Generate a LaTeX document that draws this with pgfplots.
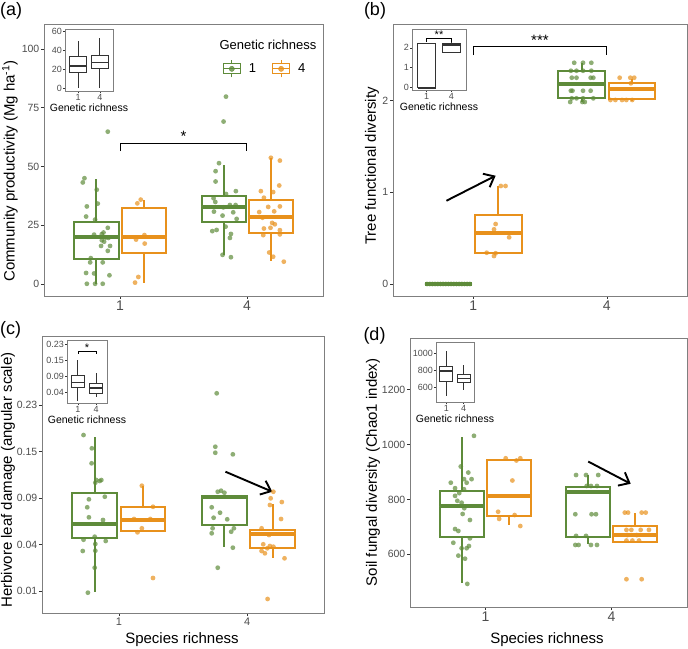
\documentclass[border=0pt]{standalone}
\usepackage{pgfplots}
\pgfplotsset{compat=1.18}
\usepgfplotslibrary{statistics}
\usetikzlibrary{arrows.meta}
\usepackage{fontspec}
\setmainfont{Liberation Sans}
\definecolor{cgreen}{HTML}{5E8B3A}
\definecolor{corange}{HTML}{E8911C}
\definecolor{frame}{HTML}{7F7F7F}
\definecolor{tickc}{HTML}{333333}
\definecolor{tlab}{HTML}{4D4D4D}
\newcommand{\fs}[1]{\fontsize{#1}{#1}\selectfont}
\pgfplotsset{
  mainax/.style={
    scale only axis, anchor=south west,
    xmin=0.4, xmax=2.6, xtick={1,2}, xticklabels={1,4},
    axis line style={draw=frame, line width=0.8pt},
    tick align=outside, tick pos=left, major tick length=3pt,
    tick style={draw=tickc, line width=0.6pt},
    yticklabel style={font=\fs{10.5}, text=tlab, inner sep=1.5pt},
    xticklabel style={font=\fs{14}, text=tlab, inner sep=1.5pt},
    /pgf/number format/assume math mode=true,
    boxplot/draw direction=y,
    boxplot/box extend=0.35,
    boxplot/whisker extend=0,
    boxplot/every median/.style={line width=4pt},
  },
  gbox/.style={cgreen, line width=2pt, fill=white},
  obox/.style={corange, line width=2pt, fill=white},
  gpts/.style={only marks, color=cgreen, mark=*, mark size=2.4pt, mark options={draw=cgreen, fill=cgreen, fill opacity=0.7, draw opacity=0}},
  opts/.style={only marks, color=corange, mark=*, mark size=2.4pt, mark options={draw=corange, fill=corange, fill opacity=0.7, draw opacity=0}},
  bracket/.style={black, line width=0.9pt},
  arr/.style={black, line width=1.9pt, -{Straight Barb[length=9pt, width=15pt]}},
  inset/.style={
    scale only axis, anchor=south west,
    xmin=0.4, xmax=2.6, xtick={1,2}, xticklabels={1,4},
    axis line style={draw=frame, line width=0.6pt},
    axis background/.style={fill=white},
    tick align=outside, tick pos=left, major tick length=2pt,
    tick style={draw=tickc, line width=0.5pt},
    yticklabel style={font=\fs{9}, text=tlab, inner sep=1pt},
    xticklabel style={font=\fs{9}, text=tlab, inner sep=1pt},
    /pgf/number format/assume math mode=true,
    xlabel={Genetic richness}, xlabel style={font=\fs{10.5}, inner sep=1pt, yshift=-1.5pt},
    boxplot/draw direction=y, boxplot/box extend=0.75, boxplot/whisker extend=0,
    boxplot/every median/.style={line width=1.8pt},
  },
  ibox/.style={black!80, line width=0.9pt, fill=white},
  legG/.style={legend image code/.code={
    \draw[cgreen, line width=1.1pt, fill=white] (0pt,-5pt) rectangle (17pt,5pt);
    \draw[cgreen, line width=1.1pt] (8.5pt,-8.5pt)--(8.5pt,-5pt) (8.5pt,5pt)--(8.5pt,8.5pt) (0pt,0pt)--(17pt,0pt);
    \fill[cgreen, fill opacity=0.8] (8.5pt,0pt) circle (2.6pt);}},
  legO/.style={legend image code/.code={
    \draw[corange, line width=1.1pt, fill=white] (0pt,-5pt) rectangle (17pt,5pt);
    \draw[corange, line width=1.1pt] (8.5pt,-8.5pt)--(8.5pt,-5pt) (8.5pt,5pt)--(8.5pt,8.5pt) (0pt,0pt)--(17pt,0pt);
    \fill[corange, fill opacity=0.8] (8.5pt,0pt) circle (2.6pt);}},
}
\begin{document}
\begin{tikzpicture}[x=1pt,y=1pt]
\useasboundingbox (0,0) rectangle (688,648);
% ---------------- (a) ----------------
\begin{axis}[mainax, at={(44pt,352pt)}, width=279pt, height=272pt,
  ymin=-5.1, ymax=110.6, ytick={0,25,50,75,100}, yticklabels={0,25,50,75,100},
  legend columns=2, legend cell align=left,
  legend style={at={(0.64,0.835)}, anchor=west, draw=none, fill=none, inner sep=0pt, font=\fs{13},
    /tikz/every odd column/.append style={column sep=6pt},
    /tikz/every even column/.append style={column sep=14pt}}]
\addlegendimage{legG}\addlegendentry{1}
\addlegendimage{legO}\addlegendentry{4}
\addplot[gbox, boxplot prepared={draw position=0.813, lower whisker=0, lower quartile=10.5, median=19.9, upper quartile=26.4, upper whisker=44.8}] coordinates {};
\addplot[obox, boxplot prepared={draw position=1.189, lower whisker=0.55, lower quartile=13.4, median=19.9, upper quartile=32.2, upper whisker=35.6}] coordinates {};
\addplot[gbox, boxplot prepared={draw position=1.817, lower whisker=12.3, lower quartile=26.4, median=32.8, upper quartile=37.3, upper whisker=50.8}] coordinates {};
\addplot[obox, boxplot prepared={draw position=2.19, lower whisker=9.6, lower quartile=21.9, median=28.4, upper quartile=35.6, upper whisker=53.7}] coordinates {};
\addplot[gpts] coordinates {(0.903,64.8)(0.719,45.0)(0.706,43.2)(0.816,40.1)(0.738,33.0)(0.824,34.2)(0.732,28.7)(0.803,27.4)(0.903,23.9)(0.869,21.9)(0.856,21.2)(0.795,21.0)(0.887,19.8)(0.908,19.6)(0.856,18.6)(0.874,18.0)(0.850,16.2)(0.921,16.2)(0.903,14.1)(0.769,11.0)(0.764,9.2)(0.863,9.2)(0.732,4.7)(0.795,4.5)(0.916,3.7)(0.738,0.1)(0.803,0.1)(0.863,0.1)};
\addplot[opts] coordinates {(1.163,35.9)(1.136,34.3)(1.192,20.8)(1.126,18.9)(1.194,17.2)(1.144,3.0)(1.118,0.6)};
\addplot[gpts] coordinates {(1.816,69.1)(1.835,79.7)(1.780,51.4)(1.753,48.0)(1.753,43.6)(1.913,39.5)(1.835,38.3)(1.737,36.5)(1.751,34.9)(1.866,33.6)(1.911,33.6)(1.814,32.6)(1.740,30.8)(1.808,29.1)(1.892,30.5)(1.919,27.7)(1.761,23.0)(1.727,22.5)(1.832,24.4)(1.874,21.3)(1.866,19.6)(1.874,11.4)(1.808,12.4)};
\addplot[opts] coordinates {(2.189,53.7)(2.260,52.5)(2.255,41.9)(2.110,39.5)(2.207,39.1)(2.134,36.7)(2.168,32.8)(2.260,33.0)(2.215,30.9)(2.097,30.6)(2.123,28.2)(2.199,26.0)(2.220,25.4)(2.134,23.6)(2.186,23.9)(2.260,22.9)(2.129,20.8)(2.260,21.1)(2.176,13.4)(2.207,11.6)(2.291,9.5)};
\addplot[bracket] coordinates {(1,56.5)(1,59.9)(2,59.9)(2,56.5)};
\node[font=\fs{15}, anchor=base, yshift=1.5pt] at (axis cs:1.5,59.9) {*};
\end{axis}
% ---------------- (b) ----------------
\begin{axis}[mainax, at={(393pt,352pt)}, width=294pt, height=272pt,
  ymin=-0.131, ymax=2.836, ytick={0,1,2}, yticklabels={0,1,2}]
\addplot[gbox, boxplot prepared={draw position=0.815, lower whisker=0, lower quartile=0, median=0, upper quartile=0, upper whisker=0}] coordinates {};
\addplot[obox, boxplot prepared={draw position=1.189, lower whisker=0.33, lower quartile=0.341, median=0.556, upper quartile=0.756, upper whisker=1.069}] coordinates {};
\addplot[gbox, boxplot prepared={draw position=1.813, lower whisker=1.988, lower quartile=2.032, median=2.185, upper quartile=2.326, upper whisker=2.407}] coordinates {};
\addplot[obox, boxplot prepared={draw position=2.189, lower whisker=2.0, lower quartile=2.014, median=2.127, upper quartile=2.189, upper whisker=2.236}] coordinates {};
\addplot[gpts] coordinates {(0.655,0)(0.675,0)(0.695,0)(0.715,0)(0.735,0)(0.755,0)(0.775,0)(0.795,0)(0.815,0)(0.835,0)(0.855,0)(0.875,0)(0.895,0)(0.915,0)(0.935,0)(0.955,0)(0.975,0)};
\addplot[opts] coordinates {(1.207,1.069)(1.242,1.069)(1.168,0.654)(1.156,0.596)(1.269,0.509)(1.101,0.341)(1.156,0.305)(1.168,0.335)};
\addplot[gpts] coordinates {(1.756,2.413)(1.822,2.413)(1.884,2.413)(1.731,2.326)(1.773,2.326)(1.822,2.326)(1.884,2.326)(1.738,2.250)(1.773,2.250)(1.879,2.250)(1.899,2.250)(1.731,2.108)(1.743,2.108)(1.822,2.108)(1.879,2.108)(1.738,2.025)(1.773,2.025)(1.822,2.025)(1.899,2.025)(1.726,1.985)(1.817,1.985)(1.835,1.985)};
\addplot[opts] coordinates {(2.096,2.250)(2.176,2.250)(2.205,2.250)(2.180,2.189)(2.027,2.007)(2.064,2.007)(2.114,2.007)(2.146,2.007)(2.190,2.007)};
\addplot[arr] coordinates {(0.8,0.908)(1.168,1.181)};
\addplot[bracket] coordinates {(1,2.497)(1,2.588)(2,2.588)(2,2.497)};
\node[font=\fs{15}, anchor=base, yshift=1.5pt] at (axis cs:1.5,2.588) {***};
\end{axis}
% ---------------- (c) ----------------
\begin{axis}[mainax, at={(42pt,35pt)}, width=282pt, height=277pt,
  ymin=0.0534, ymax=0.648, ytick={0.1,0.2,0.3,0.4,0.5}, yticklabels={0.01,0.04,0.09,0.15,0.23},
  xticklabel style={font=\fs{11}}]
\addplot[gbox, boxplot prepared={draw position=0.811, lower whisker=0.0985, lower quartile=0.215, median=0.2438, upper quartile=0.3116, upper whisker=0.4318}] coordinates {};
\addplot[obox, boxplot prepared={draw position=1.188, lower whisker=0.228, lower quartile=0.230, median=0.2536, upper quartile=0.2815, upper whisker=0.3266}] coordinates {};
\addplot[gbox, boxplot prepared={draw position=1.822, lower whisker=0.1944, lower quartile=0.2416, median=0.3017, upper quartile=0.3045, upper whisker=0.3045}] coordinates {};
\addplot[obox, boxplot prepared={draw position=2.201, lower whisker=0.1715, lower quartile=0.1936, median=0.2236, upper quartile=0.2315, upper whisker=0.2873}] coordinates {};
\addplot[gpts] coordinates {(0.724,0.4354)(0.789,0.4069)(0.787,0.3747)(0.824,0.3388)(0.850,0.3367)(0.863,0.3388)(0.816,0.3331)(0.890,0.3030)(0.766,0.2974)(0.753,0.2803)(0.766,0.2588)(0.876,0.2530)(0.811,0.2172)(0.897,0.2079)(0.718,0.1865)(0.816,0.2015)(0.816,0.1871)(0.811,0.1506)(0.758,0.097)(0.724,0.2107)};
\addplot[opts] coordinates {(1.179,0.3266)(1.266,0.2815)(1.118,0.2552)(1.245,0.2552)(1.179,0.2352)(1.145,0.2266)(1.266,0.1285)};
\addplot[gpts] coordinates {(1.752,0.4103)(1.752,0.3974)(1.889,0.3940)(1.771,0.3137)(1.797,0.3159)(1.823,0.3116)(1.724,0.2803)(1.789,0.2687)(1.739,0.2579)(1.845,0.2545)(1.731,0.2352)(1.724,0.2245)(1.897,0.2352)(1.876,0.2279)(1.889,0.1936)(1.771,0.1506)(1.763,0.525)};
\addplot[opts] coordinates {(2.205,0.3137)(2.184,0.2996)(2.271,0.2916)(2.178,0.2852)(2.265,0.2552)(2.113,0.2352)(2.171,0.2208)(2.126,0.2009)(2.178,0.1972)(2.205,0.1957)(2.158,0.1923)(2.113,0.1865)(2.139,0.1815)(2.292,0.1708)(2.160,0.0835)};
\addplot[arr] coordinates {(1.831,0.3567)(2.197,0.3137)};
\end{axis}
% ---------------- (d) ----------------
\begin{axis}[mainax, at={(410pt,41pt)}, width=277pt, height=269pt,
  ymin=407.7, ymax=1388.7, ytick={600,800,1000,1200}, yticklabels={600,800,1000,1200}]
\addplot[gbox, boxplot prepared={draw position=0.810, lower whisker=494, lower quartile=662, median=776, upper quartile=832, upper whisker=1029}] coordinates {};
\addplot[obox, boxplot prepared={draw position=1.186, lower whisker=706, lower quartile=740, median=813, upper quartile=944, upper whisker=944}] coordinates {};
\addplot[gbox, boxplot prepared={draw position=1.810, lower whisker=638, lower quartile=664, median=828, upper quartile=847, upper whisker=889}] coordinates {};
\addplot[obox, boxplot prepared={draw position=2.186, lower whisker=645, lower quartile=645, median=670, upper quartile=703, upper whisker=750}] coordinates {};
\addplot[gpts] coordinates {(0.908,1032)(0.803,920)(0.863,898)(0.829,874)(0.889,874)(0.850,861)(0.724,861)(0.758,841)(0.829,837)(0.791,823)(0.758,813)(0.776,795)(0.810,788)(0.831,768)(0.818,747)(0.876,725)(0.758,692)(0.784,685)(0.876,658)(0.744,642)(0.810,622)(0.868,630)(0.850,622)(0.784,595)(0.837,584)(0.855,492)};
\addplot[opts] coordinates {(1.160,950)(1.245,942)(1.276,950)(1.213,869)(1.100,755)(1.231,743)(1.108,729)(1.276,703)};
\addplot[gpts] coordinates {(1.719,889)(1.798,889)(1.895,889)(1.803,849)(1.837,849)(1.885,849)(1.713,746)(1.842,746)(1.877,746)(1.719,667)(1.798,667)(1.713,634)(1.739,634)(1.837,634)(1.885,634)};
\addplot[opts] coordinates {(2.106,752)(2.132,752)(2.240,752)(2.272,752)(2.119,689)(2.158,689)(2.232,689)(2.298,689)(2.127,670)(2.201,670)(2.119,650)(2.166,650)(2.219,650)(2.119,509)(2.240,509)};
\addplot[arr] coordinates {(1.816,938)(2.153,857)};
\end{axis}
% ---------------- insets ----------------
\begin{axis}[inset, at={(65pt,557pt)}, width=48pt, height=62pt,
  ymin=-3.2, ymax=62.9, ytick={0,20,40,60}, yticklabels={0,20,40,60}]
\addplot[ibox, boxplot prepared={draw position=1, lower whisker=0, lower quartile=16.5, median=23.6, upper quartile=33.2, upper whisker=50.4}] coordinates {};
\addplot[ibox, boxplot prepared={draw position=2, lower whisker=0.5, lower quartile=20.4, median=27.2, upper quartile=35.0, upper whisker=52.9}] coordinates {};
\end{axis}
\begin{axis}[inset, at={(412pt,558pt)}, width=54pt, height=61pt,
  ymin=-0.116, ymax=2.944, ytick={0,1,2}, yticklabels={0,1,2}, clip=false]
\addplot[ibox, boxplot prepared={draw position=1, lower whisker=0, lower quartile=0, median=0, upper quartile=2.207, upper whisker=2.207}] coordinates {};
\addplot[ibox, boxplot prepared={draw position=2, lower whisker=1.79, lower quartile=1.79, median=2.15, upper quartile=2.207, upper whisker=2.27}] coordinates {};
\addplot[black, line width=0.7pt] coordinates {(1,2.31)(1,2.46)(2,2.46)(2,2.31)};
\node[font=\fs{11}, anchor=base, yshift=0.5pt] at (axis cs:1.5,2.46) {**};
\end{axis}
\begin{axis}[inset, at={(67pt,245pt)}, width=40pt, height=63pt,
  ymin=0.131, ymax=0.527, ytick={0.2,0.3,0.4,0.5}, yticklabels={0.04,0.09,0.15,0.23}, clip=false]
\addplot[ibox, boxplot prepared={draw position=1, lower whisker=0.146, lower quartile=0.231, median=0.26, upper quartile=0.304, upper whisker=0.402}] coordinates {};
\addplot[ibox, boxplot prepared={draw position=2, lower whisker=0.166, lower quartile=0.189, median=0.225, upper quartile=0.256, upper whisker=0.319}] coordinates {};
\addplot[black, line width=0.7pt] coordinates {(1,0.44)(1,0.454)(2,0.454)(2,0.44)};
\node[font=\fs{11}, anchor=base, yshift=0.5pt] at (axis cs:1.5,0.454) {*};
\end{axis}
\begin{axis}[inset, at={(436pt,246pt)}, width=38pt, height=60pt,
  ymin=423.5, ymax=1136, ytick={600,800,1000}, yticklabels={600,800,1000}]
\addplot[ibox, boxplot prepared={draw position=1, lower whisker=494, lower quartile=662, median=792, upper quartile=850.6, upper whisker=1027}] coordinates {};
\addplot[ibox, boxplot prepared={draw position=2, lower whisker=561, lower quartile=651, median=702, upper quartile=753, upper whisker=867}] coordinates {};
\end{axis}
% ---------------- titles ----------------
\node[font=\fs{18}, anchor=west, inner sep=0pt] at (0,637) {(a)};
\node[font=\fs{18}] at (375,637) {(b)};
\node[font=\fs{18}, anchor=west, inner sep=0pt] at (0,318) {(c)};
\node[font=\fs{18}] at (374.5,312) {(d)};
\node[font=\fs{15}, rotate=90] at (10,477) {Community productivity (Mg ha\textsuperscript{-1})};
\node[font=\fs{15}, rotate=90] at (372,482) {Tree functional diversity};
\node[font=\fs{15}, rotate=90] at (8,168) {Herbivore leaf damage (angular scale)};
\node[font=\fs{15}, rotate=90] at (373,175.5) {Soil fungal diversity (Chao1 index)};
\node[font=\fs{15}] at (182,8) {Species richness};
\node[font=\fs{15}] at (547,8) {Species richness};
\node[font=\fs{13}] at (268,603) {Genetic richness};
\end{tikzpicture}
\end{document}
